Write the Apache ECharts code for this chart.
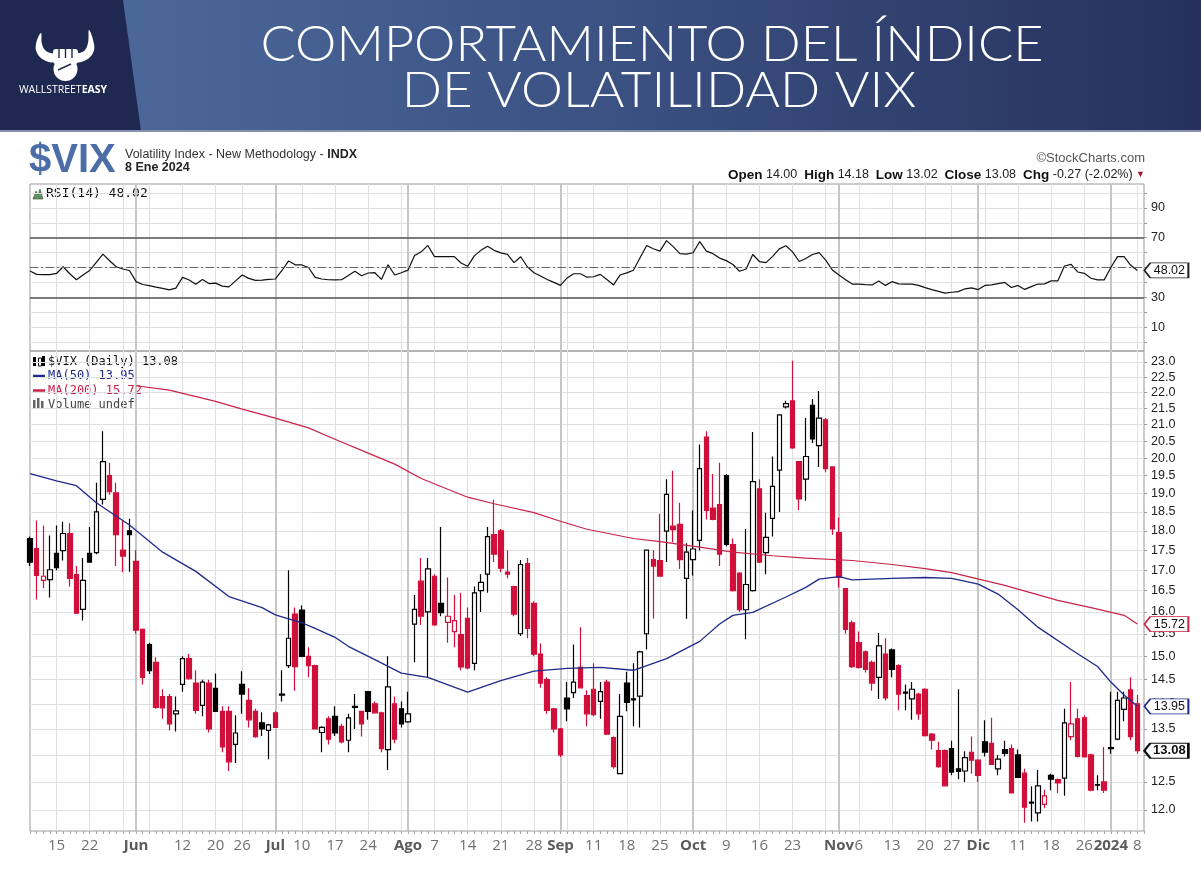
<!DOCTYPE html>
<html>
<head>
<meta charset="utf-8">
<title>VIX</title>
<script src="https://cdn.jsdelivr.net/npm/echarts@6/dist/echarts.min.js"></script>
<style>
  html, body { margin: 0; padding: 0; background: #fff; }
  #chart { width: 1201px; height: 870px; }
</style>
</head>
<body>
<div id="chart"></div>
<script>
// trading days on the chart, month by month
var daysMay = [9,10,11,12,15,16,17,18,19,22,23,24,25,26,30,31];
var daysJun = [1,2,5,6,7,8,9,12,13,14,15,16,20,21,22,23,26,27,28,29,30];
var daysJul = [3,5,6,7,10,11,12,13,14,17,18,19,20,21,24,25,26,27,28,31];
var daysAug = [1,2,3,4,7,8,9,10,11,14,15,16,17,18,21,22,23,24,25,28,29,30,31];
var daysSep = [1,5,6,7,8,11,12,13,14,15,18,19,20,21,22,25,26,27,28,29];
var daysOct = [2,3,4,5,6,9,10,11,12,13,16,17,18,19,20,23,24,25,26,27,30,31];
var daysNov = [1,2,3,6,7,8,9,10,13,14,15,16,17,20,21,22,24,27,28,29,30];
var daysDec = [1,4,5,6,7,8,11,12,13,14,15,18,19,20,21,22,26,27,28,29];
var daysJan = [2,3,4,5,8];

// $VIX daily OHLC
var openV = [
  17.8,17.54,16.75,16.77,17.42,17.49,17.93,16.89,16.06,17.42,
  17.44,18.84,19.5,19.02,17.5,18.0,17.22,15.6,15.26,14.87,
  14.15,14.15,13.8,14.4,14.95,14.43,13.97,14.43,14.32,13.85,
  13.85,13.2,14.4,14.07,13.85,13.62,13.47,13.82,14.18,14.8,
  15.95,16.04,15.0,14.8,13.43,13.7,13.75,13.55,13.28,13.95,
  13.85,14.25,14.0,13.82,13.1,14.0,13.9,13.64,15.72,16.73,
  16.0,16.85,16.2,15.76,15.55,15.48,15.85,14.85,16.5,16.9,
  17.9,18.0,16.95,16.6,15.5,17.16,16.2,15.05,14.5,13.9,
  13.5,14.12,14.23,14.76,14.17,14.3,14.05,14.45,13.33,12.65,
  14.43,14.08,14.16,15.5,17.26,17.24,17.99,18.12,18.17,16.8,
  17.26,17.75,20.62,18.6,18.7,19.5,17.64,16.93,16.05,16.5,
  19.13,17.44,18.33,19.66,21.55,21.74,19.9,19.4,21.6,20.37,
  21.15,19.75,17.95,16.55,15.75,15.3,15.1,14.87,14.55,15.05,
  15.14,14.8,14.22,14.1,14.2,14.3,13.4,13.08,13.08,13.12,
  12.74,12.7,13.05,12.9,13.25,13.22,12.74,13.1,13.12,13.0,
  12.66,12.12,11.95,12.1,12.62,12.54,12.57,13.35,13.7,13.72,
  13.0,12.45,12.5,13.14,13.3,13.89,14.29,14.0
];
var highV = [
  17.85,18.27,18.14,17.88,18.14,18.24,18.2,17.1,17.3,18.1,
  19.3,20.8,19.87,19.3,18.27,18.32,17.5,15.62,15.3,14.98,
  14.3,14.2,14.15,15.0,15.05,14.7,14.5,14.5,14.63,13.95,
  13.95,13.77,14.68,14.32,13.9,13.83,13.6,13.85,14.7,17.0,
  16.1,16.15,15.2,14.82,13.55,13.75,13.95,13.6,13.8,14.2,
  13.86,14.26,14.05,13.84,15.0,14.15,14.05,14.25,16.4,17.3,
  17.3,16.9,18.1,16.82,16.4,16.45,16.1,16.6,16.9,18.1,
  18.83,18.05,17.5,16.62,17.25,17.3,16.25,15.28,14.55,13.92,
  13.52,14.45,15.26,15.65,14.28,14.85,14.45,14.5,13.35,14.2,
  14.67,14.85,15.12,17.5,17.5,18.45,19.4,19.64,18.75,17.68,
  18.54,20.4,20.8,19.55,19.87,19.55,17.8,16.95,18.05,20.78,
  19.4,18.48,20.05,21.3,21.74,23.04,19.9,21.2,21.8,22.05,
  21.2,19.75,18.35,16.56,15.8,15.55,15.13,14.91,15.52,15.4,
  15.17,14.83,14.4,14.45,14.23,14.32,13.42,13.25,13.1,13.27,
  14.3,13.07,13.35,12.92,13.67,13.72,13.0,13.27,13.2,13.1,
  12.74,12.42,12.72,12.36,12.65,12.56,13.9,14.45,13.9,13.77,
  13.02,12.62,13.15,14.25,14.25,14.25,14.55,14.18
];
var lowV = [
  17.1,16.29,16.56,16.34,17.0,17.24,16.6,15.95,15.8,17.19,
  17.4,18.7,18.97,17.1,16.95,16.96,15.5,14.4,14.62,13.9,
  13.7,13.47,13.45,14.25,14.5,13.8,13.75,13.43,13.85,13.05,
  12.7,12.85,13.8,13.53,13.33,13.36,12.92,13.52,14.05,14.75,
  14.27,14.98,14.55,13.5,13.05,13.2,13.36,13.22,13.05,13.5,
  13.35,13.68,13.8,13.05,12.72,13.22,13.53,13.62,14.87,15.7,
  14.55,15.68,15.9,15.3,15.2,14.7,14.72,14.7,16.0,16.45,
  17.2,16.95,16.8,15.9,15.45,15.4,15.0,14.33,13.8,13.43,
  12.96,13.65,14.12,14.32,13.55,13.75,13.7,13.38,12.74,12.65,
  13.85,13.55,13.53,15.15,15.85,16.84,17.2,17.7,17.03,15.84,
  16.87,17.49,18.3,18.28,17.1,17.6,16.48,16.0,15.38,16.48,
  17.18,16.9,17.85,18.5,21.5,20.28,18.55,18.8,20.45,19.75,
  19.6,17.9,16.58,15.5,14.75,14.74,14.65,14.27,14.1,14.07,
  14.55,13.87,13.87,13.68,13.68,13.35,13.1,12.76,12.43,12.62,
  12.55,12.5,12.65,12.5,12.97,12.82,12.62,12.97,12.3,12.57,
  11.78,11.8,11.8,12.03,12.35,12.3,12.25,13.28,12.95,12.95,
  12.33,12.35,12.3,13.02,13.28,13.65,13.28,13.02
];
var closeV = [
  17.2,16.87,16.85,17.01,17.06,17.93,16.8,15.97,16.75,17.2,
  18.5,19.9,19.05,17.9,17.35,17.9,15.58,14.55,14.69,13.93,
  13.92,13.6,13.86,14.95,14.52,13.87,14.45,13.5,13.85,13.15,
  12.87,13.42,14.2,13.68,13.35,13.5,13.58,13.53,14.2,15.4,
  14.78,15.0,14.8,13.5,13.53,13.3,13.42,13.25,13.72,13.93,
  13.6,13.85,13.82,13.12,14.35,13.3,13.6,13.8,16.06,15.9,
  17.03,15.7,15.98,15.9,15.8,14.77,14.75,16.45,16.7,17.85,
  17.4,17.05,16.9,15.95,17.14,15.62,15.05,14.43,13.87,13.5,
  13.0,13.9,14.45,14.33,13.8,13.78,14.25,13.4,12.78,13.75,
  14.03,14.1,15.1,17.5,17.1,16.85,18.98,18.03,17.26,17.45,
  17.53,19.7,18.54,18.3,17.4,17.65,16.5,16.05,16.65,19.33,
  17.2,17.83,19.2,21.3,21.65,20.3,18.85,20.05,20.57,21.2,
  19.7,18.05,16.82,15.6,14.78,14.76,14.72,14.43,15.23,14.12,
  14.72,14.2,14.24,14.3,13.8,13.37,13.28,12.78,12.43,12.68,
  12.69,12.95,12.9,12.62,13.05,12.82,12.92,13.03,12.3,12.58,
  12.05,12.14,12.43,12.25,12.55,12.48,13.62,13.6,12.97,12.96,
  12.35,12.44,12.35,13.12,14.07,14.12,13.35,13.08
];

// RSI(14), one value per trading day
var rsiV = [
  47.7,45.4,45.2,45.2,46,50.5,45.8,41.8,45,48,
  53.5,59,54.5,50.5,49,48,40.5,38.6,37.8,36.8,
  36,35,36.2,43.4,41.6,38.7,42,39.2,39.5,37.5,
  37,41,45,42.7,41.4,41.5,42,42.3,48,54.4,
  51.8,51.7,50,43.4,42.3,41.8,41.7,41.8,44.6,47.5,
  44.5,46.3,46.5,42,51.8,45,46.5,48.2,58,60.5,
  64.8,57.3,57.3,57.3,57.3,53,50.8,57.8,61.5,64.3,
  61.5,59.8,58.8,53.3,57.2,50.5,46.5,44.3,42,40,
  38,43,45.8,45.8,43.5,43.8,45.4,42,38.3,45,
  46.4,48.2,56.5,64.8,62.6,61,68,64,59.3,59,
  59.9,67.4,61,59.3,56.3,54.6,52,47.5,49,58.7,
  54,53.3,57.5,62.5,64.6,60.5,54,56,58.7,60,
  55,48.3,45,41.8,38.9,38.8,38.5,38.3,41,38,
  40.5,39,38.9,38.9,38,36.5,35.2,34,32.8,33.4,
  33.8,35.7,36.3,35.2,38,38.4,39.2,40,36.6,38,
  35.3,37.2,38.9,39,41,41,51,52.1,47,46.1,
  42.8,41.7,41.7,50,57.3,57.3,51.5,48.02
];

// moving averages: [day index, value]
var ma50Pts = [
  [0,19.56],[4,19.35],[7,19.22],[10,18.75],[15,18.15],[20,17.45],[25,16.97],[30,16.36],
  [35,16.1],[37,15.93],[41,15.75],[43,15.62],[46,15.42],[48,15.22],[52,14.93],[56,14.64],
  [60,14.55],[66,14.24],[71,14.48],[76,14.68],[81,14.74],[86,14.76],[91,14.7],[96,14.95],
  [101,15.33],[104,15.72],[106,15.92],[109,15.99],[114,16.35],[117,16.58],[119,16.78],
  [122,16.84],[124,16.76],[130,16.8],[135,16.82],[139,16.8],[143,16.66],[146,16.42],
  [149,16.05],[152,15.65],[157,15.15],[161,14.78],[163,14.45],[165,14.18],[167,13.95]
];
var ma200Pts = [
  [16,22.22],[21,22.08],[28,21.72],[32,21.48],[37,21.2],[42,20.9],[46,20.56],[51,20.15],
  [55,19.83],[59,19.42],[66,18.9],[70,18.72],[76,18.48],[80,18.25],[84,18.04],[91,17.8],
  [95,17.72],[101,17.58],[106,17.45],[112,17.36],[117,17.3],[124,17.24],[130,17.14],
  [135,17.04],[139,16.94],[147,16.63],[155,16.27],[160,16.1],[165,15.92],[167,15.72]
];

// axis labels
var priceTicks = [12,12.5,13,13.5,14,14.5,15,15.5,16,16.5,17,17.5,18,18.5,19,19.5,20,20.5,21,21.5,22,22.5,23];
var rsiGrid = [0,10,20,30,40,50,60,70,80,90,100];
var rsiTicks = [10,30,70,90];
var tickLabels = [
  ['2023-05-15','15'],['2023-05-22','22'],['2023-06-01','Jun'],['2023-06-12','12'],
  ['2023-06-20','20'],['2023-06-26','26'],['2023-07-03','Jul'],['2023-07-10','10'],
  ['2023-07-17','17'],['2023-07-24','24'],['2023-08-01','Ago'],['2023-08-07','7'],
  ['2023-08-14','14'],['2023-08-21','21'],['2023-08-28','28'],['2023-09-01','Sep'],
  ['2023-09-11','11'],['2023-09-18','18'],['2023-09-25','25'],['2023-10-02','Oct'],
  ['2023-10-09','9'],['2023-10-16','16'],['2023-10-23','23'],['2023-11-01','Nov'],
  ['2023-11-06','6'],['2023-11-13','13'],['2023-11-20','20'],['2023-11-27','27'],
  ['2023-12-01','Dic'],['2023-12-11','11'],['2023-12-18','18'],['2023-12-26','26'],
  ['2024-01-02','2024'],['2024-01-08','8']
];
var boldLabels = ['Jun','Jul','Ago','Sep','Oct','Nov','Dic','2024'];

var RED = '#d0103a';
var NAVY = '#1f2a8a';
var MA_RED = '#c9234a';
var SANS = '"Liberation Sans", Arial, sans-serif';
var MONO = '"DejaVu Sans Mono", monospace';

function pad(n) { return n < 10 ? '0' + n : '' + n; }

// categories
var months = [
  [2023,5,daysMay],[2023,6,daysJun],[2023,7,daysJul],[2023,8,daysAug],[2023,9,daysSep],
  [2023,10,daysOct],[2023,11,daysNov],[2023,12,daysDec],[2024,1,daysJan]
];
var dates = [];
var dayNum = [];
months.forEach(function (m) {
  m[2].forEach(function (d) {
    dates.push(m[0] + '-' + pad(m[1]) + '-' + pad(d));
    dayNum.push(Date.UTC(m[0], m[1] - 1, d) / 86400000);
  });
});
var lastIdx = dates.length - 1;
dates.push(''); // empty slot up to the right border

// where the vertical grid lines go
var weekStart = {}, monthStart = {};
for (var i = 1; i <= lastIdx; i++) {
  if (Math.floor((dayNum[i] + 3) / 7) !== Math.floor((dayNum[i - 1] + 3) / 7)) weekStart[i] = true;
  if (dates[i].slice(5, 7) !== dates[i - 1].slice(5, 7)) monthStart[i] = true;
}
var labelAt = {};
tickLabels.forEach(function (t) { labelAt[dates.indexOf(t[0])] = t[1]; });

// candles: hollow when close > open, red when close < previous close
var candleData = closeV.map(function (c, i) {
  var o = openV[i];
  var prev = i > 0 ? closeV[i - 1] : c;
  var col = c < prev ? RED : '#000';
  var fill = c > o ? '#fff' : col;
  return {
    value: [o, c, lowV[i], highV[i]],
    itemStyle: { color: fill, color0: fill, borderColor: col, borderColor0: col }
  };
});

var lastClose = closeV[lastIdx];
var prevClose = closeV[lastIdx - 1];
var chg = lastClose - prevClose;
var chgPct = chg / prevClose * 100;
var lastMa50 = ma50Pts[ma50Pts.length - 1][1];
var lastMa200 = ma200Pts[ma200Pts.length - 1][1];
var lastRsi = rsiV[rsiV.length - 1];

function tag(idx, val, border, bold) {
  return {
    silent: true,
    symbol: 'path://M0,7 L6,0 L44,0 L44,14 L6,14 Z',
    symbolSize: [44, 15],
    symbolOffset: [29, 0],
    itemStyle: { color: '#fff', borderColor: border, borderWidth: bold ? 1.6 : 1.2 },
    label: {
      show: true, position: 'inside', offset: [3, 0],
      color: '#111', fontSize: bold ? 13 : 12.5, fontWeight: bold ? 'bold' : 'normal', fontFamily: SANS,
      formatter: function () { return val.toFixed(2); }
    },
    data: [{ coord: [idx, val], value: val }]
  };
}

function xAx(grid, extra) {
  var base = {
    type: 'category', gridIndex: grid, data: dates, boundaryGap: false,
    axisLine: { show: false }, axisTick: { show: false }, axisLabel: { show: false },
    splitLine: { show: false }
  };
  for (var k in extra) base[k] = extra[k];
  return base;
}
var weekLines = { show: true, interval: function (i) { return !!weekStart[i]; }, lineStyle: { color: '#e0e0e0', width: 1 } };
var monthLines = { show: true, interval: function (i) { return !!monthStart[i]; }, lineStyle: { color: '#c6c6c6', width: 2 } };

function legendText(x, y, text, color, size) {
  return { type: 'text', silent: true, x: x, y: y,
    style: { text: text, fill: color, fontSize: size, fontFamily: MONO, verticalAlign: 'middle' } };
}

var chart = echarts.init(document.getElementById('chart'), null, { renderer: 'canvas' });

var option = {
  animation: false,
  backgroundColor: '#fff',
  grid: [
    { left: 30, top: 184, width: 1114, height: 167, show: true, borderColor: '#9a9a9a', borderWidth: 1 },
    { left: 30, top: 351, width: 1114, height: 480, show: true, borderColor: '#9a9a9a', borderWidth: 1 }
  ],
  xAxis: [
    xAx(0, { splitLine: weekLines }),
    xAx(1, {
      splitLine: weekLines,
      axisTick: { show: true, interval: 0, length: 3, lineStyle: { color: '#aaa' } },
      axisLabel: {
        show: true, margin: 7, color: '#707070', fontSize: 15, fontFamily: '"Open Sans", sans-serif',
        interval: function (i) { return labelAt[i] !== undefined; },
        formatter: function (v, i) {
          var t = labelAt[i];
          if (t === undefined) return '';
          return boldLabels.indexOf(t) >= 0 ? '{b|' + t + '}' : t;
        },
        rich: { b: { fontWeight: 'bold', color: '#5a5a5a', fontSize: 15, fontFamily: '"Open Sans", sans-serif' } }
      }
    }),
    xAx(0, { splitLine: monthLines }),
    xAx(1, { splitLine: monthLines })
  ],
  yAxis: [
    {
      type: 'value', gridIndex: 0, position: 'right', min: -6, max: 106,
      axisLine: { show: false },
      axisTick: { show: true, customValues: rsiGrid, length: 3, lineStyle: { color: '#999' } },
      axisLabel: { customValues: rsiTicks, margin: 7, color: '#222', fontSize: 12.5, fontFamily: SANS },
      splitLine: { show: true, lineStyle: { color: '#e0e0e0' } }
    },
    {
      type: 'log', logBase: 10, gridIndex: 1, position: 'right', min: 11.64, max: 23.37,
      axisLine: { show: false },
      axisTick: { show: true, customValues: priceTicks, length: 3, lineStyle: { color: '#999' } },
      axisLabel: {
        customValues: priceTicks, margin: 7, color: '#222', fontSize: 12.5, fontFamily: SANS,
        formatter: function (v) { return v.toFixed(1); }
      },
      splitLine: { show: true, lineStyle: { color: '#e0e0e0' } }
    }
  ],
  series: [
    {
      name: 'RSI', type: 'line', xAxisIndex: 0, yAxisIndex: 0, data: rsiV,
      symbol: 'none', lineStyle: { color: '#111', width: 1.2 },
      markLine: {
        silent: true, symbol: ['none', 'none'], label: { show: false },
        lineStyle: { color: '#555', width: 1.6, type: 'solid' },
        data: [
          { yAxis: 70 }, { yAxis: 30 },
          { yAxis: 50, lineStyle: { color: '#666', width: 1, type: [8, 3, 2, 3] } }
        ]
      },
      markPoint: tag(lastIdx, lastRsi, '#222', false)
    },
    {
      name: '$VIX', type: 'candlestick', xAxisIndex: 1, yAxisIndex: 1, data: candleData,
      barWidth: 5, itemStyle: { borderWidth: 1.2 },
      markPoint: tag(lastIdx, lastClose, '#111', true)
    },
    {
      name: 'MA(50)', type: 'line', xAxisIndex: 1, yAxisIndex: 1, data: ma50Pts,
      symbol: 'none', lineStyle: { color: NAVY, width: 1.3 },
      markPoint: tag(lastIdx, lastMa50, NAVY, false)
    },
    {
      name: 'MA(200)', type: 'line', xAxisIndex: 1, yAxisIndex: 1, data: ma200Pts,
      symbol: 'none', lineStyle: { color: MA_RED, width: 1.2 },
      markPoint: tag(lastIdx, lastMa200, MA_RED, false)
    }
  ],
  graphic: [
    // banner
    { type: 'rect', silent: true, shape: { x: 0, y: 0, width: 1201, height: 131 },
      style: { fill: new echarts.graphic.LinearGradient(0, 0, 1, 0, [
        { offset: 0, color: '#4f6d9f' }, { offset: 0.5, color: '#3b5283' }, { offset: 1, color: '#27305c' }]) } },
    { type: 'polygon', silent: true, shape: { points: [[0, 0], [123, 0], [141, 131], [0, 131]] }, style: { fill: '#1f2851' } },
    { type: 'rect', silent: true, shape: { x: 0, y: 130, width: 1201, height: 2 }, style: { fill: '#8592ad' } },
    { type: 'text', silent: true, x: 652, y: 45, scaleX: 1.045,
      style: { text: 'COMPORTAMIENTO DEL ÍNDICE', fill: '#fff', fontSize: 50, fontWeight: 300,
        fontFamily: 'Lato, "Open Sans", sans-serif', align: 'center', verticalAlign: 'middle' } },
    { type: 'text', silent: true, x: 659, y: 90.5, scaleX: 1.06,
      style: { text: 'DE VOLATILIDAD VIX', fill: '#fff', fontSize: 50, fontWeight: 300,
        fontFamily: 'Lato, "Open Sans", sans-serif', align: 'center', verticalAlign: 'middle' } },
    // logo
    { type: 'polygon', silent: true, shape: { smooth: 0.4, points: [[54, 62], [44, 60], [37, 53], [36, 44], [41, 33], [42, 44], [46, 51], [55, 55]] }, style: { fill: '#fff' } },
    { type: 'polygon', silent: true, shape: { smooth: 0.4, points: [[76, 62], [86, 60], [93, 53], [94, 44], [89, 30], [88, 43], [84, 51], [75, 55]] }, style: { fill: '#fff' } },
    { type: 'rect', silent: true, shape: { x: 53, y: 49, width: 25, height: 15, r: 3 }, style: { fill: '#fff' } },
    { type: 'circle', silent: true, shape: { cx: 65.5, cy: 69, r: 12 }, style: { fill: '#fff' } },
    { type: 'line', silent: true, shape: { x1: 59, y1: 49, x2: 59, y2: 58 }, style: { stroke: '#1f2851', lineWidth: 1.4 } },
    { type: 'line', silent: true, shape: { x1: 65.5, y1: 49, x2: 65.5, y2: 58 }, style: { stroke: '#1f2851', lineWidth: 1.4 } },
    { type: 'line', silent: true, shape: { x1: 72, y1: 49, x2: 72, y2: 58 }, style: { stroke: '#1f2851', lineWidth: 1.4 } },
    { type: 'line', silent: true, shape: { x1: 58, y1: 70, x2: 71, y2: 64 }, style: { stroke: '#1f2851', lineWidth: 1.4 } },
    { type: 'text', silent: true, x: 63, y: 90,
      style: { text: '{a|WALLSTREET}{b|EASY}', align: 'center', verticalAlign: 'middle',
        rich: { a: { fill: '#fff', fontSize: 10.5, fontFamily: '"Open Sans", sans-serif' },
                b: { fill: '#fff', fontSize: 10.5, fontWeight: 'bold', fontFamily: '"Open Sans", sans-serif' } } } },
    // chart heading
    { type: 'text', silent: true, x: 29, y: 161,
      style: { text: '$VIX', fill: '#4b6ea9', fontSize: 40, fontWeight: 'bold', fontFamily: SANS, verticalAlign: 'middle' } },
    { type: 'text', silent: true, x: 125, y: 155,
      style: { text: 'Volatility Index - New Methodology - {b|INDX}', fill: '#333', fontSize: 12.5, fontFamily: SANS,
        verticalAlign: 'middle', rich: { b: { fontWeight: 'bold', fill: '#222', fontSize: 12.5, fontFamily: SANS } } } },
    { type: 'text', silent: true, x: 125, y: 168,
      style: { text: '8 Ene 2024', fill: '#222', fontSize: 12.5, fontWeight: 'bold', fontFamily: SANS, verticalAlign: 'middle' } },
    { type: 'text', silent: true, x: 1145, y: 158,
      style: { text: '©StockCharts.com', fill: '#555', fontSize: 13, fontFamily: SANS, align: 'right', verticalAlign: 'middle' } },
    { type: 'text', silent: true, x: 1145, y: 175,
      style: {
        text: '{l|Open} ' + openV[lastIdx].toFixed(2) + '  {l|High} ' + highV[lastIdx].toFixed(2) +
          '  {l|Low} ' + lowV[lastIdx].toFixed(2) + '  {l|Close} ' + lastClose.toFixed(2) +
          '  {l|Chg} ' + chg.toFixed(2) + ' (' + chgPct.toFixed(2) + '%) {t|▼}',
        fill: '#222', fontSize: 12.5, fontFamily: SANS, align: 'right', verticalAlign: 'middle',
        rich: { l: { fontWeight: 'bold', fontSize: 13.5, fill: '#111', fontFamily: SANS },
                t: { fill: '#a0142e', fontSize: 9, fontFamily: SANS } }
      } },
    // RSI panel caption
    { type: 'polygon', silent: true, shape: { points: [[33, 199], [36, 191], [38, 195], [40, 189], [43, 199]] }, style: { fill: '#5f935f', stroke: '#2f4f2f', lineWidth: 0.6 } },
    legendText(46, 194, 'RSI(14) ' + lastRsi.toFixed(2), '#111', 13),
    // price panel legend
    { type: 'rect', silent: true, shape: { x: 33, y: 357, width: 3, height: 9 }, style: { fill: '#000' } },
    { type: 'rect', silent: true, shape: { x: 38.5, y: 358, width: 3, height: 8 }, style: { fill: '#fff', stroke: '#000', lineWidth: 1 } },
    { type: 'rect', silent: true, shape: { x: 42, y: 356, width: 3, height: 10 }, style: { fill: '#000' } },
    legendText(48, 362, '$VIX (Daily) ' + lastClose.toFixed(2), '#111', 12),
    { type: 'line', silent: true, shape: { x1: 33, y1: 376, x2: 45, y2: 376 }, style: { stroke: NAVY, lineWidth: 2.5 } },
    legendText(48, 376, 'MA(50) ' + lastMa50.toFixed(2), NAVY, 12),
    { type: 'line', silent: true, shape: { x1: 33, y1: 390.5, x2: 45, y2: 390.5 }, style: { stroke: MA_RED, lineWidth: 2.5 } },
    legendText(48, 390.5, 'MA(200) ' + lastMa200.toFixed(2), MA_RED, 12),
    { type: 'rect', silent: true, shape: { x: 33, y: 400, width: 2.5, height: 9 }, style: { fill: '#666' } },
    { type: 'rect', silent: true, shape: { x: 37, y: 398, width: 2.5, height: 11 }, style: { fill: '#666' } },
    { type: 'rect', silent: true, shape: { x: 41, y: 401, width: 2.5, height: 8 }, style: { fill: '#666' } },
    legendText(48, 404.5, 'Volume undef', '#444', 12)
  ]
};

chart.setOption(option);
</script>
</body>
</html>
